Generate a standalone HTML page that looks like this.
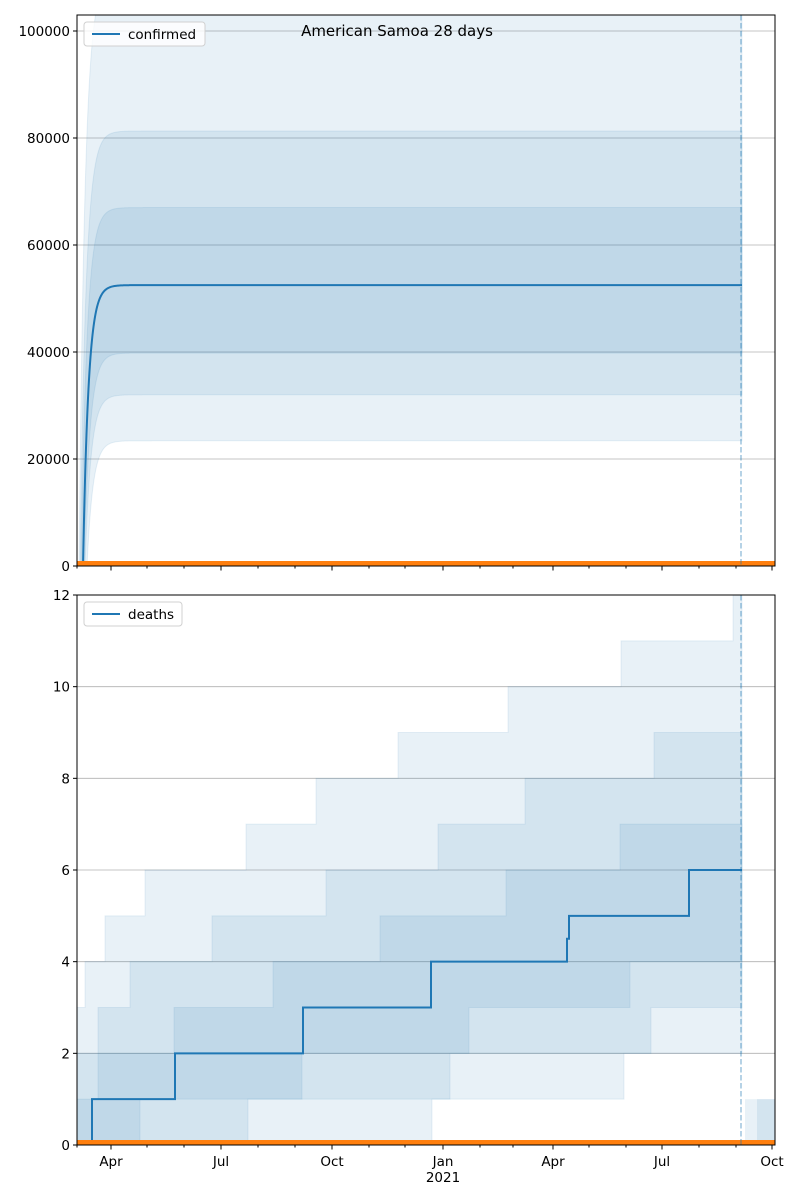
<!DOCTYPE html>
<html><head><meta charset="utf-8">
<style>
html,body{margin:0;padding:0;background:#fff;}
svg{display:block;font-family:"DejaVu Sans","Liberation Sans",sans-serif;}
</style></head>
<body>
<svg id="s" width="800" height="1200" xmlns="http://www.w3.org/2000/svg">
<defs>
<clipPath id="c1"><rect x="77" y="15" width="698" height="551"/></clipPath>
<clipPath id="c2"><rect x="77" y="595" width="698" height="550"/></clipPath>
</defs>
<rect width="800" height="1200" fill="#fff"/>
<g id="gtop" clip-path="url(#c1)"></g>
<g id="gbot" clip-path="url(#c2)"></g>
<g id="gaxes"></g>
<text x="397" y="36" font-size="15" text-anchor="middle">American Samoa 28 days</text>
</svg>
<script>
(function(){
const NS="http://www.w3.org/2000/svg";
function el(p,t,a,txt){const e=document.createElementNS(NS,t);for(const k in a)e.setAttribute(k,a[k]);if(txt!==undefined)e.textContent=txt;p.appendChild(e);return e;}
const gT=document.getElementById('gtop'),gB=document.getElementById('gbot'),ax=document.getElementById('gaxes');
const blue="#1f77b4";
const ty=v=>566-v*535/100000;
[20000,40000,60000,80000,100000].forEach(v=>el(gT,'line',{x1:77,x2:775,y1:ty(v),y2:ty(v),stroke:'#b0b0b0','stroke-width':0.8}));
function curve(P,x0,k,xe){let pts=[];for(let x=x0;x<=xe;x+=0.5){pts.push([x,ty(P*(1-Math.exp(-(x-x0)/k)))]);}pts.push([xe,ty(P*(1-Math.exp(-(xe-x0)/k)))]);return pts;}
function band(Pu,xu,ku,Pl,xl,kl){const u=curve(Pu,xu,ku,742),l=curve(Pl,xl,kl,742);let d='M'+u.map(p=>p.join(',')).join('L')+'L'+l.reverse().map(p=>p.join(',')).join('L')+'Z';el(gT,'path',{d:d,fill:blue,'fill-opacity':0.1,stroke:blue,'stroke-opacity':0.1});}
band(110000,79,6,23400,87,6);
band(81300,80,6,32000,85,6);
band(67000,81,6,39800,84,6);
let m=curve(52500,83,5.5,742);
el(gT,'path',{d:'M'+m.map(p=>p.join(',')).join('L'),fill:'none',stroke:blue,'stroke-width':2});
el(gT,'line',{x1:77,x2:775,y1:563.5,y2:563.5,stroke:'#ff7f0e','stroke-width':5});
const by=v=>1145-v*550/12;
[2,4,6,8,10].forEach(v=>el(gB,'line',{x1:77,x2:775,y1:by(v),y2:by(v),stroke:'#b0b0b0','stroke-width':0.8}));
function stepPts(st){let p=[];for(let i=0;i<st.length;i++){const x=st[i][0],v=st[i][1],xn=i+1<st.length?st[i+1][0]:742;p.push([x,by(v)],[xn,by(v)]);}return p;}
function sband(U,L){const u=stepPts(U),l=stepPts(L).reverse();el(gB,'path',{d:'M'+u.concat(l).map(p=>p.join(',')).join('L')+'Z',fill:blue,'fill-opacity':0.1,stroke:blue,'stroke-opacity':0.1});}
sband([[77,3],[85,4],[105,5],[145,6],[246,7],[316,8],[398,9],[508,10],[621,11],[733,12]],[[77,0],[432,1],[624,2]]);
sband([[77,2],[98,3],[130,4],[212,5],[326,6],[438,7],[525,8],[654,9]],[[77,0],[248,1],[450,2],[651,3]]);
sband([[77,1],[98,2],[174,3],[273,4],[380,5],[506,6],[620,7]],[[77,0],[140,1],[302,2],[469,3],[630,4]]);
el(gB,'rect',{x:745,y:by(1),width:30,height:by(0)-by(1),fill:blue,'fill-opacity':0.1});
el(gB,'rect',{x:757,y:by(1),width:18,height:by(0)-by(1),fill:blue,'fill-opacity':0.1});
const med=stepPts([[92,1],[175,2],[303,3],[431,4],[567,4.5],[569,5],[689,6]]);
el(gB,'path',{d:'M92,'+by(0)+'L'+med.map(p=>p.join(',')).join('L'),fill:'none',stroke:blue,'stroke-width':2});
el(gB,'line',{x1:77,x2:775,y1:1142.5,y2:1142.5,stroke:'#ff7f0e','stroke-width':5});
[[15,566],[595,1145]].forEach(r=>el(ax,'line',{x1:741,x2:741,y1:r[0],y2:r[1],stroke:blue,'stroke-opacity':0.5,'stroke-width':1.3,'stroke-dasharray':'5.5,2.5'}));
el(ax,'rect',{x:77,y:15,width:698,height:551,fill:'none',stroke:'#000','stroke-width':1});
el(ax,'rect',{x:77,y:595,width:698,height:550,fill:'none',stroke:'#000','stroke-width':1});
[0,20000,40000,60000,80000,100000].forEach(v=>{const y=ty(v);el(ax,'line',{x1:73,x2:77,y1:y,y2:y,stroke:'#000'});el(ax,'text',{x:70,y:y+5,'font-size':13.5,'text-anchor':'end'},v);});
[0,2,4,6,8,10,12].forEach(v=>{const y=by(v);el(ax,'line',{x1:73,x2:77,y1:y,y2:y,stroke:'#000'});el(ax,'text',{x:70,y:y+5,'font-size':13.5,'text-anchor':'end'},v);});
const minor=[77,147,184,258,295,369,405,480,513,589,626,699,736];
const major=[[111,'Apr'],[221,'Jul'],[332,'Oct'],[443,'Jan'],[553,'Apr'],[662,'Jul'],[772,'Oct']];
[566,1145].forEach((y0,i)=>{
 minor.forEach(x=>el(ax,'line',{x1:x,x2:x,y1:y0,y2:y0+2.5,stroke:'#000'}));
 major.forEach(mm=>{el(ax,'line',{x1:mm[0],x2:mm[0],y1:y0,y2:y0+4.5,stroke:'#000'});if(i==1)el(ax,'text',{x:mm[0],y:y0+21,'font-size':13.5,'text-anchor':'middle'},mm[1]);});
});
el(ax,'text',{x:443,y:1182,'font-size':13.5,'text-anchor':'middle'},'2021');
function legend(x,y,w,label){el(ax,'rect',{x:x,y:y,width:w,height:24,rx:3,fill:'#fff','fill-opacity':0.8,stroke:'#d0d0d0'});el(ax,'line',{x1:x+8,x2:x+36,y1:y+12,y2:y+12,stroke:blue,'stroke-width':2});el(ax,'text',{x:x+44,y:y+17,'font-size':13.5},label);}
legend(84,22,121,'confirmed');
legend(84,602,98,'deaths');
})();
</script>
</body></html>
